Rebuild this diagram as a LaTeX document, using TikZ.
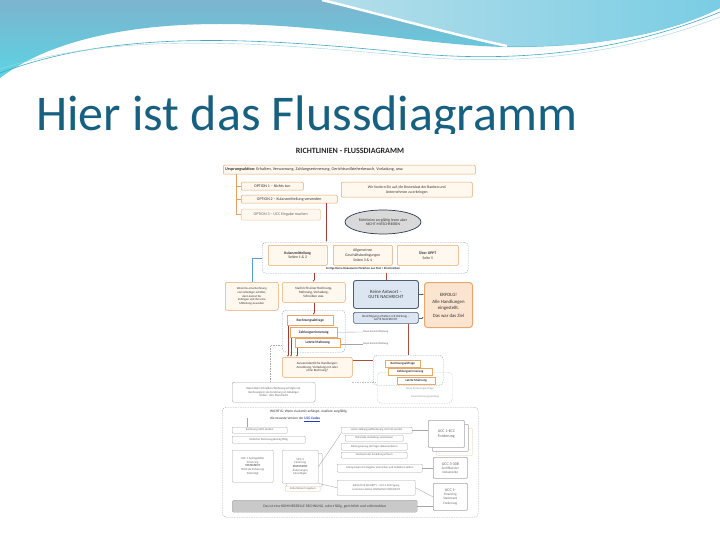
\documentclass[tikz,border=0pt]{standalone}
\usepackage{fontspec}
\setmainfont{Carlito}
\usetikzlibrary{shapes.geometric,arrows.meta}
\definecolor{ttl}{HTML}{17607F}
\definecolor{wvA}{HTML}{7DB4CE}
\definecolor{wvB}{HTML}{5AD4E4}
\definecolor{wvC}{HTML}{B4DEEA}
\definecolor{wvD}{HTML}{7ACDE4}
\definecolor{wvL}{HTML}{3FA9C4}
\definecolor{txt}{HTML}{333333}
\definecolor{obd}{HTML}{E9A86A}
\definecolor{obf}{HTML}{FFF8EF}
\definecolor{bbd}{HTML}{4D5D72}
\definecolor{bbf}{HTML}{DCE6F2}
\definecolor{erf}{HTML}{FBE4D0}
\definecolor{gbd}{HTML}{A6A6A6}
\definecolor{gtx}{HTML}{666666}
\definecolor{dsh}{HTML}{8FA8C8}
\definecolor{rln}{HTML}{A23B3B}
\definecolor{bln}{HTML}{5B9BD5}
\definecolor{ell}{HTML}{D9D9D9}
\definecolor{elb}{HTML}{2B3A55}
\definecolor{bar}{HTML}{C9C9C9}
\definecolor{lnk}{HTML}{1F3FBF}
\definecolor{crm}{HTML}{EFE3C4}
\newcommand\bx[7][]{\node[#1,anchor=north west,minimum width={#5-#3},minimum height={#6-#4}] (#2) at (#3,#4) {#7};}
\begin{document}
\begin{tikzpicture}[x=1pt,y=-1pt,
 base/.style={inner sep=0.5pt, align=center, text=txt, font=\fontsize{3.4}{4}\selectfont},
 ob/.style={base, draw=obd, fill=obf, rounded corners=1pt, line width=0.5pt},
 obw/.style={base, draw=obd, fill=white, line width=0.5pt},
 bb/.style={base, draw=bbd, fill=bbf, rounded corners=2.5pt, line width=0.9pt, font=\fontsize{4.8}{5.7}\selectfont},
 gb/.style={base, draw=gbd, fill=white, rounded corners=0.8pt, line width=0.4pt, text=gtx},
 dbox/.style={draw=dsh, dash pattern=on 1.5pt off 1pt, rounded corners=4pt, line width=0.4pt},
 rl/.style={draw=rln, line width=0.5pt},
 ol/.style={draw=obd!80!brown, line width=0.5pt},
 gl/.style={draw=gbd, line width=0.35pt},
 tip/.style={-{Latex[length=2pt,width=1.6pt]}},
 small/.style={inner sep=0pt, text=gtx, font=\fontsize{2.8}{3.3}\selectfont}]
\useasboundingbox (0,0) rectangle (720,540);
\fill[white] (0,0) rectangle (720,540);
% decorative waves
\shade[top color=wvA, bottom color=wvB] (0,0) -- (720,0) -- (720,8) .. controls (660,38) and (580,48) .. (505,47) .. controls (420,45) and (330,24) .. (220,24) .. controls (130,24) and (50,40) .. (0,78) -- cycle;
\shade[left color=wvC, right color=wvD] (326,0) -- (720,0) -- (720,8) .. controls (660,38) and (580,48) .. (505,46) .. controls (450,34) and (380,12) .. (326,0) -- cycle;
\draw[white, line width=2.5pt] (322,0) .. controls (380,14) and (450,34) .. (507,46);
\draw[wvL, line width=0.6pt] (0,73) .. controls (120,28) and (260,38) .. (420,54) .. controls (540,64) and (640,45) .. (720,12);
\draw[wvL!50, line width=0.4pt] (0,69) .. controls (120,31) and (260,42) .. (420,57) .. controls (540,67) and (640,48) .. (720,17);
% title
\begin{scope}
\clip (0,0) rectangle (720,134);
\node[anchor=base west, inner sep=0, text=ttl, font=\fontsize{50}{60}\selectfont] (title) at (36,131) {Hier ist das Flussdiagramm};
\end{scope}
% ---------------- flow chart ----------------
\node[inner sep=0, font=\fontsize{8}{9}\selectfont\bfseries, text=black!85] (rt) at (350,151) {RICHTLINIEN - FLUSSDIAGRAMM};
\bx[ob]{urs}{223}{165}{475}{174}{}
\node[anchor=west, inner sep=0, text=txt, font=\fontsize{4.2}{5}\selectfont] (urst) at (225,169.5) {\textbf{Ursprungsaktion:} Erhalten, Verwarnung, Zahlungserinnerung, Gerichtsvollzieherbesuch, Vorladung, usw.};
\bx[ob,font=\fontsize{4}{4.8}\selectfont]{o1}{241}{182}{303}{190}{OPTION 1 – Nichts tun}
\bx[ob,font=\fontsize{4}{4.8}\selectfont]{o2}{241}{195}{337}{203}{OPTION 2 – Kulanzmitteilung versenden}
\bx[ob,draw=obd!60,text=gtx,font=\fontsize{4}{4.8}\selectfont]{o3}{241}{209}{320}{220}{OPTION 3 – UCC Eingabe machen}
\coordinate (sp) at (236,174);
\draw[ol] (sp) |- (o1.west);
\draw[ol] (sp) |- (o2.west);
\draw[ol] (sp) |- (o3.west);
\bx[ob,font=\fontsize{3.8}{4.6}\selectfont]{wir}{341}{182}{472}{197}{Wir fordern Sie auf, die Beweislast der Banken und\\Unternehmen zu erbringen}
\node[ellipse, draw=elb, fill=ell, line width=0.7pt, minimum width=76pt, minimum height=24pt, inner sep=0, align=center, text=txt, font=\fontsize{3.8}{4.6}\selectfont] (ell) at (383,222) {Richtlinien sorgfältig lesen aber\\NICHT MITSCHREIBEN};
% package
\bx[dbox]{pkg}{262}{242}{468}{273}{}
\bx[ob,font=\fontsize{3.8}{4.6}\selectfont]{p1}{268}{245}{327}{265}{\textbf{Kulanzmitteilung}\\Seiten 1 \& 2}
\bx[ob,font=\fontsize{3.8}{4.6}\selectfont]{p2}{333}{245}{392}{265}{Allgemeinen\\Geschäftsbedingungen\\Seiten 3 \& 4}
\bx[ob,font=\fontsize{3.8}{4.6}\selectfont]{p3}{397}{245}{458}{265}{\textbf{Über OPPT}\\Seite 5}
\node[inner sep=0, font=\fontsize{3}{3.6}\selectfont\bfseries, text=black!80] (pkt) at (363,269) {Fertige Deine Dokumente Päckchen aus Post + Einschreiben};
\draw[rl,tip] ([xshift=-11pt]o2.south east) -- ([xshift=-11pt]o2.south east |- pkg.north);
% second row
\bx[ob,rounded corners=2pt,font=\fontsize{3}{3.6}\selectfont]{wenn}{225}{282}{278}{310}{Wenn Du eine Rechnung\\vom Gläubiger erhältst,\\dann kannst Du\\anfangen und ihm eine\\Mitteilung zusenden}
\draw[draw=bln, line width=0.5pt] (wenn.north) |- (pkg.west |- 0,258);
\bx[ob,rounded corners=2pt,font=\fontsize{3.4}{4.1}\selectfont]{nach}{282}{282}{345}{302}{Nachricht einer Rechnung,\\Mahnung, Vorladung,\\Schreiben usw.}
\draw[rl,tip] (pkg.south -| nach.north) -- (nach.north);
\bx[bb]{kein}{353}{280}{418}{308}{Keine Antwort –\\GUTE NACHRICHT}
\draw[draw=rln!70!brown, line width=0.5pt] (pkg.south -| kein.north) -- (kein.north);
\bx[ob,fill=erf,line width=1pt,rounded corners=3pt,font=\fontsize{4.8}{6.4}\selectfont]{erf}{424}{282}{472}{327}{ERFOLG!\\[1pt]Alle Handlungen\\eingestellt.\\[1pt]Das war das Ziel}
\draw[draw=bbd, line width=0.5pt, tip] (kein.east) -- (kein.east -| erf.west);
\bx[bb,line width=0.7pt,rounded corners=1.5pt,font=\fontsize{3.2}{3.9}\selectfont]{ber}{353}{312}{418}{323}{Berichtigung erhalten mit Rückzug –\\GUTE NACHRICHT}
\draw[draw=bbd, line width=0.5pt, tip] (ber.east) -- (ber.east -| erf.west);
% cascade group
\bx[dbox]{grp}{282}{310}{345}{352}{}
\bx[obw,font=\fontsize{3.6}{4.3}\selectfont\bfseries]{rq}{287}{315}{333}{325}{Rechnungsabfrage}
\bx[obw,font=\fontsize{3.6}{4.3}\selectfont\bfseries]{ze}{290}{327}{337}{337}{Zahlungserinnerung}
\bx[obw,font=\fontsize{3.6}{4.3}\selectfont\bfseries]{lm}{295}{338}{340}{347}{Letzte Mahnung}
\draw[rl,tip] (nach.south) -- (nach.south |- rq.north);
\node[small, anchor=west] (ne1) at (363,332) {Neue Ersatzmitteilung};
\node[small, anchor=west] (ne2) at (363,344) {Neue Ersatzmitteilung};
\draw[gl] (ze.east) -- (ne1.west);
\draw[gl] (lm.east |- ne2.west) -- (ne2.west);
\bx[ob,rounded corners=2pt,font=\fontsize{3.2}{3.9}\selectfont]{aus}{282}{357}{352}{377}{Ausserordentliche Handlungen:\\Anordnung, Vorladung mit oder\\ohne Rechnung?}
\draw[rl,tip] ([xshift=1pt]rq.south west) -- ([xshift=1pt]rq.south west |- aus.north);
\draw[rl,tip] ([xshift=1pt]ze.south west) -- ([xshift=1pt]ze.south west |- aus.north);
\draw[rl,tip] ([xshift=2pt]lm.south west) -- ([xshift=2pt]lm.south west |- aus.north);
% lower right group
\bx[dbox,draw=gbd!60]{fad}{377}{372}{452}{403}{}
\bx[dbox]{grp2}{373}{355}{443}{385}{}
\bx[obw,font=\fontsize{3.2}{3.8}\selectfont\bfseries]{rq2}{385}{360}{420}{367}{Rechnungsabfrage}
\bx[obw,font=\fontsize{3.2}{3.8}\selectfont\bfseries]{ze2}{388}{368}{432}{375}{Zahlungserinnerung}
\bx[obw,font=\fontsize{3.2}{3.8}\selectfont\bfseries]{lm2}{397}{377}{435}{384}{Letzte Mahnung}
\node[small, text=gtx!70] (nr1) at (420,389) {Neue Rechnungsanfrage};
\node[small, text=gtx!70] (nr2) at (425,397) {Neue Rechnungsprüfung};
\draw[draw=rln!70!brown, line width=0.5pt] ([xshift=-10pt]ber.south east) -- ([xshift=-10pt]ber.south east |- grp2.north);
\draw[draw=rln!70!brown, line width=0.5pt] ([yshift=-3pt]aus.north east) -- ([yshift=-3pt]aus.north east -| grp2.west);
% gray note
\bx[gb,rounded corners=2pt,font=\fontsize{3}{3.6}\selectfont]{note}{232}{382}{315}{402}{Wenn Dein Schreiben/Mahnung erfolglos ist,\\Rechnung(en) als Forderung an Gläubiger\\stellen: UCC Pfandrecht}
\coordinate (dc) at (270,345);
\draw[gl, dash pattern=on 1.5pt off 1pt] (grp.west |- dc) -- (dc) -- (dc |- note.north);
\coordinate (dd) at (352,382);
\draw[gl, draw=gbd!70, dash pattern=on 1.5pt off 1pt] (dd) -- (dd -| fad.west);
% big bottom box
\bx[dbox,draw=gbd]{big}{222}{407}{478}{517}{}
\node[anchor=north west, inner sep=0, align=left, text=txt, font=\fontsize{3.5}{7}\selectfont] (hdr) at (270,410) {WICHTIG: Wenn du damit anfängst, studiere sorgfältig\\die neueste Version der \textcolor{lnk}{\underline{\textbf{UCC Codes}}}};
\bx[gb,font=\fontsize{2.9}{3.4}\selectfont]{l1}{232}{427}{287}{433}{Rechnung nicht senden}
\bx[gb,font=\fontsize{2.9}{3.4}\selectfont]{l2}{232}{436}{305}{443}{Einfacher Rechnungsbetrag fällig}
\coordinate (lc) at (247,418);
\draw[gl] (lc) -- (lc |- l1.north);
\bx[gb,font=\fontsize{3}{3.7}\selectfont]{ba}{232}{450}{273}{482}{UCC 1 Antragsteller\\Financing\\\textbf{STATEMENT}\\Wird als Sicherung\\hinterlegt}
\bx[gb]{bbs}{286}{453}{322}{486}{}
\bx[gb,font=\fontsize{3}{3.7}\selectfont]{bbx}{282}{450}{318}{483}{UCC 3\\Financing\\\textbf{STATEMENT}\\Änderungen\\hinzufügen}
\bx[gb,draw=obd!70,font=\fontsize{2.8}{3.3}\selectfont]{sf}{285}{486}{320}{491}{Sicherheiten freigeben}
\bx[gb,font=\fontsize{2.8}{3.3}\selectfont]{m1}{341}{427}{412}{433}{Letzte Zahlungsaufforderung mit Frist senden}
\bx[gb,font=\fontsize{2.8}{3.3}\selectfont]{m2}{345}{435}{403}{441}{Notarielle Zustellung veranlassen}
\bx[gb,font=\fontsize{2.8}{3.3}\selectfont]{m3}{341}{443}{407}{450}{Zahlungsverzug (30 Tage) dokumentieren}
\bx[gb,font=\fontsize{2.8}{3.3}\selectfont]{m4}{341}{452}{407}{458}{Nachweis der Zustellung sichern}
\bx[gb,font=\fontsize{2.8}{3.3}\selectfont]{m5}{337}{464}{422}{472}{Antrag beim UCC-Register einreichen und Gebühren zahlen}
\bx[gb,font=\fontsize{2.8}{3.6}\selectfont]{m6}{337}{480}{415}{495}{EXECUTIVE SECURITY – UCC-1 Eintragung\\zu Deinem LEGAL FINANCING STATEMENT}
\bx[gb,draw=crm,line width=0.6pt]{r1c}{436}{428}{472}{455}{}
\bx[gb,line width=0.6pt]{r1b}{432}{424}{468}{451}{}
\bx[gb,line width=0.7pt,font=\fontsize{4}{5}\selectfont]{r1}{428}{420}{464}{447}{UCC 1-ECC\\Forderung}
\bx[gb,line width=0.7pt,font=\fontsize{3.3}{4.1}\selectfont]{r2}{433}{457}{467}{478}{{\fontsize{4}{5}\selectfont UCC 3-308}\\Zertifikat der\\Dokumente}
\bx[gb,line width=0.7pt,font=\fontsize{3.3}{4.1}\selectfont]{r3}{433}{483}{467}{510}{{\fontsize{4}{5}\selectfont UCC 1-}\\Financing\\Statement\\Forderung}
\bx[gb,fill=bar,draw=gbd,rounded corners=1.5pt,text=txt!90,font=\fontsize{3.7}{4.4}\selectfont]{bar}{232}{500}{417}{512}{Das ist eine KOMMERZIELLE RECHNUNG, sofort fällig, gerichtlich und vollstreckbar}
\draw[gl] (m1.east) -- (m1.east -| r1.west);
\draw[gl] (m5.east) -- (m5.east -| r2.west);
\draw[gl] (m6.east) -- (r3.west);
\draw[gl] (bar.east) -- (bar.east -| r3.west);
\draw[gl] (m1.south west) -- (bbx.east);
\draw[gl] (m6.west) -- (bbx.south east);
\end{tikzpicture}
\end{document}
